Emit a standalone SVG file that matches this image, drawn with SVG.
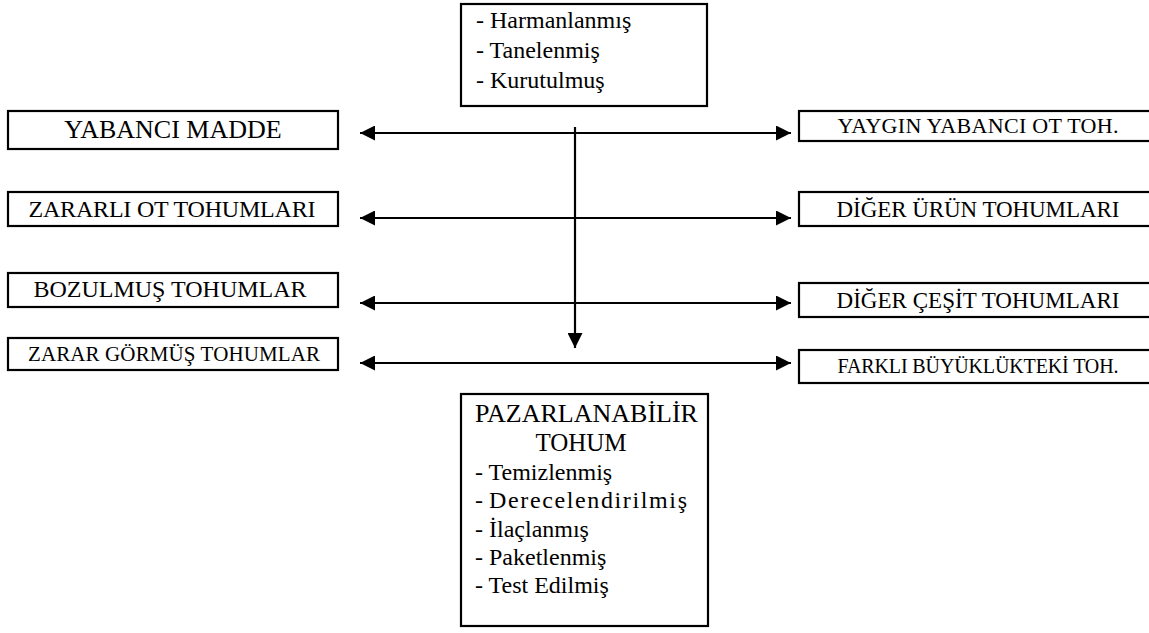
<svg xmlns="http://www.w3.org/2000/svg" width="1149" height="633" viewBox="0 0 1149 633" font-family="Liberation Serif, serif">
<style>
.box{fill:#fff;stroke:#000;stroke-width:2.2}
.t{font-family:"Liberation Serif",serif;fill:#000}
.c{text-anchor:middle}
.ln{stroke:#000;stroke-width:2.2;fill:none}
</style>
<defs>
<marker id="ah" viewBox="0 0 15 15" refX="15" refY="7.5" markerWidth="15" markerHeight="15" markerUnits="userSpaceOnUse" orient="auto-start-reverse">
<path d="M0,0 L15,7.5 L0,15 Z" fill="#000"/>
</marker>
</defs>
<rect width="1149" height="633" fill="#fff"/>
<g id="n-top">
<rect class="box" x="461" y="4" width="246" height="102"/>
<text class="t" x="476" y="28" font-size="24">- Harmanlanmış</text>
<text class="t" x="476" y="58" font-size="24">- Tanelenmiş</text>
<text class="t" x="476" y="88" font-size="24">- Kurutulmuş</text>
</g>
<g id="n-yabanci">
<rect class="box" x="8" y="111" width="330" height="38"/>
<text class="t c" x="173" y="138" font-size="26">YABANCI MADDE</text>
</g>
<g id="n-zararli">
<rect class="box" x="8" y="192" width="330" height="34"/>
<text class="t c" x="172" y="217" font-size="24" textLength="287">ZARARLI OT TOHUMLARI</text>
</g>
<g id="n-bozulmus">
<rect class="box" x="8" y="273" width="330" height="34"/>
<text class="t c" x="170" y="297" font-size="24">BOZULMUŞ TOHUMLAR</text>
</g>
<g id="n-zarar">
<rect class="box" x="8" y="338" width="330" height="32"/>
<text class="t c" x="174" y="361" font-size="21" textLength="292">ZARAR GÖRMÜŞ TOHUMLAR</text>
</g>
<g id="n-yaygin">
<rect class="box" x="799" y="111" width="360" height="30"/>
<text class="t c" x="978" y="133" font-size="22" textLength="281">YAYGIN YABANCI OT TOH.</text>
</g>
<g id="n-diger-urun">
<rect class="box" x="799" y="192" width="360" height="34"/>
<text class="t c" x="978" y="217" font-size="23" textLength="283">DİĞER ÜRÜN TOHUMLARI</text>
</g>
<g id="n-diger-cesit">
<rect class="box" x="799" y="283" width="360" height="34"/>
<text class="t c" x="978" y="308" font-size="23" textLength="283">DİĞER ÇEŞİT TOHUMLARI</text>
</g>
<g id="n-farkli">
<rect class="box" x="799" y="350" width="360" height="33"/>
<text class="t c" x="978" y="373" font-size="20" textLength="281">FARKLI BÜYÜKLÜKTEKİ TOH.</text>
</g>
<g id="n-bottom">
<rect class="box" x="461" y="394" width="247" height="232"/>
<text class="t" x="475" y="422" font-size="26">PAZARLANABİLİR</text>
<text class="t c" x="581" y="451" font-size="25">TOHUM</text>
<text class="t" x="475" y="480" font-size="24">- Temizlenmiş</text>
<text class="t" x="475" y="508" font-size="24">- <tspan x="489" textLength="198">Derecelendirilmiş</tspan></text>
<text class="t" x="475" y="537" font-size="24">- İlaçlanmış</text>
<text class="t" x="475" y="565" font-size="24">- Paketlenmiş</text>
<text class="t" x="475" y="593" font-size="24">- Test Edilmiş</text>
</g>
<g id="connectors">
<line class="ln" x1="575" y1="127" x2="575" y2="348" marker-end="url(#ah)"/>
<line class="ln" x1="360" y1="133" x2="791" y2="133" marker-start="url(#ah)" marker-end="url(#ah)"/>
<line class="ln" x1="360" y1="218" x2="791" y2="218" marker-start="url(#ah)" marker-end="url(#ah)"/>
<line class="ln" x1="360" y1="303" x2="791" y2="303" marker-start="url(#ah)" marker-end="url(#ah)"/>
<line class="ln" x1="360" y1="363" x2="791" y2="363" marker-start="url(#ah)" marker-end="url(#ah)"/>
</g>
</svg>
